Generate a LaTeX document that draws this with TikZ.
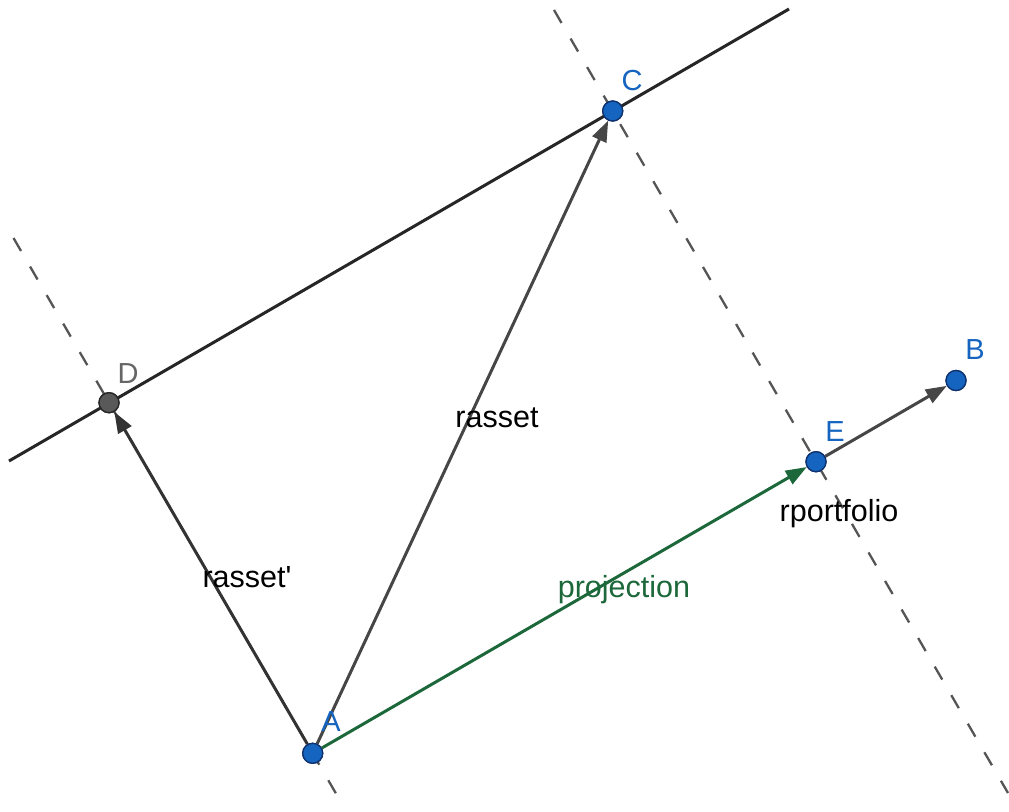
\documentclass[tikz,border=0pt]{standalone}
\usepackage{fontspec}
\setmainfont{Liberation Sans}
\usetikzlibrary{arrows.meta}
\definecolor{ptblue}{RGB}{21,101,192}
\definecolor{ptedge}{RGB}{15,50,110}
\definecolor{lblblue}{RGB}{21,101,192}
\definecolor{projgreen}{RGB}{28,104,58}
\definecolor{arrgray}{RGB}{70,70,70}
\definecolor{dashgray}{RGB}{85,85,85}
\tikzset{
  pt/.style={circle, fill=ptblue, draw=ptedge, line width=1.3pt, minimum size=20pt, inner sep=0pt},
  ptgray/.style={circle, fill=black!65, draw=black!85, line width=1.3pt, minimum size=20pt, inner sep=0pt},
  vec/.style={line width=3pt, -{Triangle[length=21pt,width=15pt]}},
  auxdash/.style={line width=2.3pt, draw=dashgray, dash pattern=on 15pt off 18pt},
  solidline/.style={line width=3pt, draw=black!85},
  lbl/.style={font=\fontsize{30.5}{32}\selectfont, inner sep=1pt},
  ptlbl/.style={font=\fontsize{29}{31}\selectfont, text=lblblue, inner sep=0pt},
}
\begin{document}
\begin{tikzpicture}[x=1pt,y=-1pt]
\useasboundingbox (0,0) rectangle (1009,811);
\fill[white] (0,0) rectangle (1009,811);
% point positions
\coordinate (pA) at (312.7,753.3);
\coordinate (pC) at (612.7,111);
\coordinate (pD) at (109,402.7);
\coordinate (pE) at (816,461.7);
\coordinate (pB) at (956,380.5);
% free line ends
\coordinate (s1) at (9,461);
\coordinate (s2) at (789,9);
\coordinate (d1) at (554,10);
\coordinate (d2) at (1008,793);
\coordinate (d3) at (13.5,238);
\coordinate (d4) at (344.4,808);
% lines
\draw[solidline] (s1) -- (s2);
\draw[auxdash] (d1) -- (d2);
\draw[auxdash] (d3) -- (d4);
% points (nodes)
\node[pt] (A) at (pA) {};
\node[pt] (C) at (pC) {};
\node[ptgray] (D) at (pD) {};
\node[pt] (E) at (pE) {};
\node[pt] (B) at (pB) {};
% vectors
\draw[vec, draw=arrgray, fill=arrgray] (A) -- (C);
\draw[vec, draw=black!80, fill=black!80] (A) -- (D);
\draw[vec, draw=projgreen, fill=projgreen] (A) -- (E);
\draw[vec, draw=arrgray, fill=arrgray] (E) -- (B);
% redraw points on top
\node[pt] at (pA) {};
\node[pt] at (pC) {};
\node[ptgray] at (pD) {};
\node[pt] at (pE) {};
\node[pt] at (pB) {};
% labels
\node[lbl] (lrasset) at (497,418) {rasset};
\node[lbl] (lrassetp) at (247,577) {rasset\textquotesingle};
\node[lbl, text=projgreen] (lproj) at (624,590) {projection};
\node[lbl] (lport) at (839,514) {rportfolio};
\node[ptlbl] (lA) at (331,722) {A};
\node[ptlbl] (lC) at (632,81) {C};
\node[ptlbl] (lE) at (835,432) {E};
\node[ptlbl] (lB) at (975,350) {B};
\node[ptlbl, text=black!60] (lD) at (128,374) {D};
\end{tikzpicture}
\end{document}
